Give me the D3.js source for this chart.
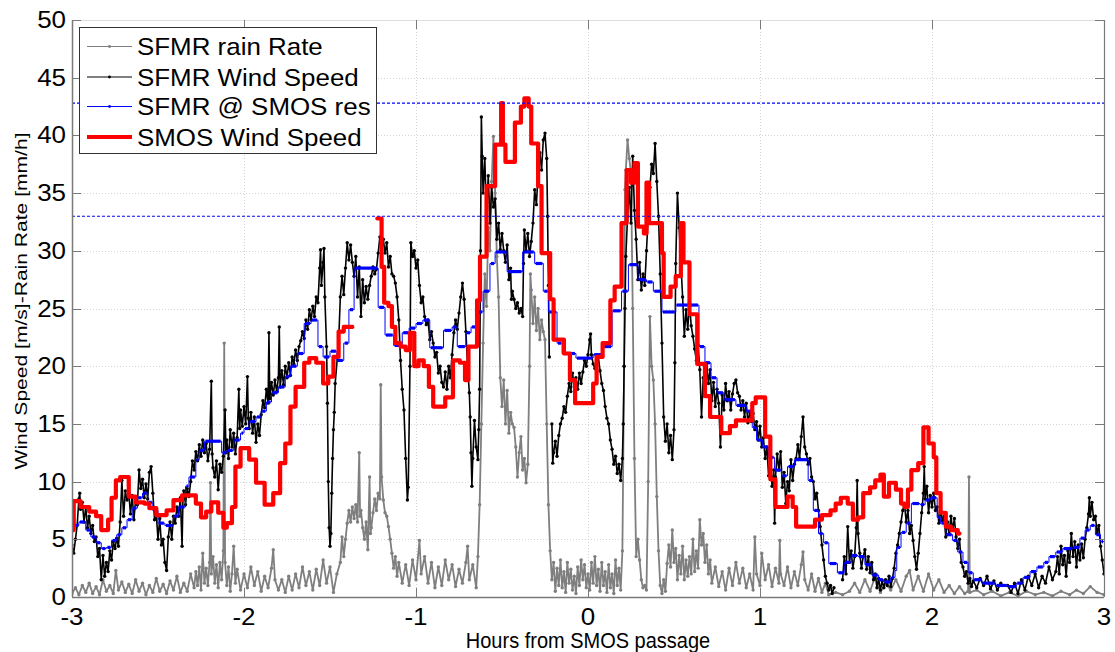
<!DOCTYPE html>
<html>
<head>
<meta charset="utf-8">
<script src="https://cdn.jsdelivr.net/npm/d3@7"></script>
<style>
  html, body { margin: 0; padding: 0; background: #fff; }
  svg { display: block; }
</style>
</head>
<body>
<svg id="chart" width="1115" height="652"></svg>
<script>
// ---- axis ticks and labels ----
const xTicks = [-3, -2, -1, 0, 1, 2, 3];
const yTicks = [0, 5, 10, 15, 20, 25, 30, 35, 40, 45, 50];
const thresholdLines = [42.8, 33.0];
const legendLabels = ["SFMR rain Rate", "SFMR Wind Speed", "SFMR @ SMOS res", "SMOS Wind Speed"];

// ---- SFMR rain rate [hours, mm/h] ----
const rainRate = [
[-3.00,0.3],[-2.98,0.8],[-2.96,0.2],[-2.94,1.0],[-2.92,0.4],[-2.90,1.2],[-2.88,0.3],[-2.86,0.9],[-2.84,0.2],[-2.82,1.5],
[-2.80,0.5],[-2.78,1.0],[-2.76,0.3],[-2.745,2.3],[-2.73,0.6],[-2.71,1.3],[-2.69,0.4],[-2.67,1.1],[-2.65,0.3],[-2.63,1.5],
[-2.61,0.5],[-2.59,1.2],[-2.57,0.2],[-2.55,1.0],[-2.53,0.4],[-2.51,1.6],[-2.49,0.5],[-2.47,1.1],[-2.45,0.3],[-2.43,1.4],
[-2.41,0.6],[-2.39,1.8],[-2.37,0.4],[-2.35,1.2],[-2.33,0.5],[-2.31,2.0],[-2.29,0.8],[-2.28,2.2],[-2.27,1.0],[-2.26,2.6],
[-2.25,0.6],[-2.24,3.8],[-2.23,1.2],[-2.22,2.5],[-2.21,1.0],[-2.20,3.0],[-2.195,9.9],[-2.19,2.0],[-2.18,3.5],[-2.17,1.2],
[-2.16,2.8],[-2.15,0.8],[-2.14,3.0],[-2.13,1.5],[-2.12,4.0],[-2.115,22.0],[-2.11,3.0],[-2.10,1.0],[-2.09,2.6],[-2.08,0.5],
[-2.07,2.0],[-2.06,4.4],[-2.05,1.2],[-2.04,2.4],[-2.02,0.6],[-2.00,2.0],[-1.98,0.8],[-1.96,2.6],[-1.94,1.0],[-1.92,2.2],
[-1.90,0.5],[-1.88,1.8],[-1.86,0.8],[-1.84,2.5],[-1.83,4.1],[-1.82,1.5],[-1.80,0.6],[-1.78,1.5],[-1.76,0.4],[-1.74,1.8],
[-1.72,0.6],[-1.70,2.0],[-1.68,0.8],[-1.66,2.6],[-1.64,1.0],[-1.62,2.2],[-1.60,0.6],[-1.58,2.4],[-1.56,1.0],[-1.54,3.2],
[-1.52,1.2],[-1.50,2.6],[-1.48,0.4],[-1.46,2.0],[-1.44,3.0],[-1.43,5.2],[-1.42,3.5],[-1.41,5.0],[-1.40,6.4],[-1.39,7.5],
[-1.38,6.5],[-1.37,7.8],[-1.36,6.8],[-1.35,8.0],[-1.34,6.5],[-1.33,12.5],[-1.325,7.0],[-1.32,7.5],[-1.31,6.0],[-1.30,5.0],
[-1.29,6.5],[-1.28,4.1],[-1.27,10.4],[-1.265,5.5],[-1.26,6.0],[-1.25,7.3],[-1.24,8.5],[-1.23,7.5],[-1.22,9.0],[-1.21,8.5],
[-1.205,18.4],[-1.20,10.4],[-1.19,8.4],[-1.18,7.3],[-1.17,7.0],[-1.16,6.1],[-1.15,5.0],[-1.14,3.8],[-1.13,2.5],[-1.12,3.5],
[-1.11,1.8],[-1.10,3.0],[-1.08,1.2],[-1.06,2.8],[-1.04,1.0],[-1.02,3.2],[-1.00,1.5],[-0.98,4.9],[-0.97,2.0],[-0.95,3.5],
[-0.93,1.2],[-0.91,3.0],[-0.89,0.8],[-0.87,2.6],[-0.85,1.0],[-0.83,3.2],[-0.81,1.5],[-0.79,2.8],[-0.77,0.9],[-0.75,2.4],
[-0.73,1.2],[-0.71,3.0],[-0.70,4.4],[-0.69,1.5],[-0.67,2.8],[-0.65,0.8],[-0.64,3.5],[-0.63,8.0],[-0.62,15.0],[-0.61,22.0],
[-0.60,28.0],[-0.59,25.2],[-0.58,32.0],[-0.57,30.0],[-0.56,36.0],[-0.55,39.9],[-0.54,35.0],[-0.53,29.5],[-0.52,26.0],[-0.51,19.0],
[-0.50,16.5],[-0.49,18.8],[-0.48,15.0],[-0.47,17.9],[-0.46,14.2],[-0.45,16.0],[-0.44,15.0],[-0.43,14.7],[-0.42,13.0],[-0.41,10.4],
[-0.40,12.5],[-0.39,13.9],[-0.38,11.0],[-0.37,12.0],[-0.36,9.9],[-0.35,11.5],[-0.34,20.0],[-0.335,28.0],[-0.33,26.6],[-0.32,23.7],
[-0.31,26.0],[-0.30,23.1],[-0.29,25.0],[-0.28,22.3],[-0.27,24.0],[-0.26,23.0],[-0.25,22.3],[-0.24,15.0],[-0.23,8.0],[-0.22,4.0],
[-0.21,1.5],[-0.20,3.0],[-0.19,0.5],[-0.18,2.5],[-0.17,1.0],[-0.16,3.2],[-0.15,0.8],[-0.14,2.2],[-0.13,0.4],[-0.12,3.0],
[-0.11,1.2],[-0.10,2.4],[-0.09,0.6],[-0.08,1.8],[-0.07,0.3],[-0.06,2.6],[-0.05,1.0],[-0.04,3.2],[-0.03,1.5],[-0.02,2.8],
[-0.01,0.8],[0.00,2.0],[0.01,0.6],[0.02,3.0],[0.03,1.2],[0.04,3.5],[0.05,1.0],[0.06,2.4],[0.07,0.5],[0.08,3.0],
[0.09,1.0],[0.10,2.2],[0.11,0.4],[0.12,2.8],[0.13,0.8],[0.14,2.0],[0.15,0.3],[0.16,3.2],[0.17,1.0],[0.18,2.5],
[0.19,0.6],[0.20,4.0],[0.21,20.0],[0.215,35.3],[0.22,37.0],[0.23,39.6],[0.24,38.0],[0.25,36.7],[0.26,25.0],[0.27,12.0],
[0.28,3.5],[0.29,5.0],[0.30,3.2],[0.31,1.5],[0.32,0.8],[0.33,1.0],[0.34,0.6],[0.35,10.0],[0.36,24.3],[0.37,20.0],
[0.38,18.8],[0.39,15.0],[0.40,8.7],[0.41,4.0],[0.42,1.0],[0.43,0.3],[0.44,1.5],[0.45,0.5],[0.46,2.9],[0.47,4.5],
[0.48,2.6],[0.49,5.8],[0.50,3.0],[0.51,4.2],[0.52,1.5],[0.53,3.6],[0.54,2.0],[0.55,4.4],[0.56,1.5],[0.57,3.2],
[0.58,1.8],[0.59,3.5],[0.60,2.0],[0.61,5.0],[0.62,2.2],[0.63,4.0],[0.64,2.5],[0.65,6.7],[0.66,4.5],[0.67,5.5],
[0.68,3.0],[0.69,4.5],[0.70,2.0],[0.71,3.2],[0.72,1.2],[0.74,2.6],[0.76,0.9],[0.78,2.2],[0.80,0.6],[0.82,2.5],
[0.84,1.0],[0.86,3.0],[0.88,1.2],[0.90,2.5],[0.92,0.8],[0.94,2.0],[0.96,0.6],[0.97,5.2],[0.98,2.0],[1.00,1.0],
[1.01,3.8],[1.03,1.5],[1.05,2.8],[1.07,0.9],[1.09,2.5],[1.11,1.2],[1.115,4.9],[1.12,2.0],[1.14,1.0],[1.16,2.6],
[1.18,0.8],[1.20,2.2],[1.22,1.0],[1.24,2.8],[1.25,3.9],[1.26,1.5],[1.28,0.6],[1.30,2.0],[1.32,0.5],[1.34,1.6],
[1.36,0.4],[1.38,1.2],[1.40,0.2],[1.44,0.4],[1.48,0.2],[1.52,0.5],[1.55,1.2],[1.58,0.4],[1.61,1.5],[1.64,0.5],
[1.67,1.8],[1.70,0.4],[1.73,1.2],[1.76,0.6],[1.79,1.5],[1.82,0.5],[1.85,1.8],[1.87,2.3],[1.89,0.6],[1.92,1.8],
[1.95,0.5],[1.98,2.0],[2.01,0.6],[2.04,1.5],[2.07,0.4],[2.10,1.0],[2.13,0.3],[2.16,0.9],[2.19,0.3],[2.21,0.5],
[2.215,10.4],[2.22,0.4],[2.26,0.6],[2.30,0.2],[2.35,0.5],[2.40,0.1],[2.45,0.4],[2.50,0.1],[2.55,0.5],[2.60,0.2],
[2.65,0.4],[2.70,0.1],[2.75,0.5],[2.80,0.2],[2.84,0.6],[2.88,0.3],[2.92,0.9],[2.96,0.4],[3.00,0.2]
];

// ---- SFMR wind speed [hours, m/s]; null marks a data gap ----
const sfmrWind = [
[-3.00,4.5],[-2.99,3.8],[-2.98,5.0],[-2.97,6.2],[-2.96,8.5],[-2.955,9.0],[-2.95,7.6],[-2.94,8.2],[-2.93,6.5],[-2.92,7.8],
[-2.91,6.0],[-2.90,7.0],[-2.89,5.5],[-2.88,6.2],[-2.87,4.8],[-2.86,5.2],[-2.85,3.5],[-2.84,4.2],[-2.83,1.5],[-2.82,3.6],
[-2.81,1.8],[-2.80,3.0],[-2.79,2.2],[-2.78,4.0],[-2.77,3.2],[-2.76,4.8],[-2.75,4.2],[-2.74,5.1],[-2.73,4.4],[-2.72,6.5],
[-2.71,10.1],[-2.70,7.0],[-2.69,9.2],[-2.68,8.4],[-2.67,9.0],[-2.66,7.2],[-2.65,8.8],[-2.64,6.7],[-2.63,8.5],[-2.62,8.0],
[-2.61,11.0],[-2.60,9.4],[-2.59,10.2],[-2.58,8.6],[-2.57,9.8],[-2.56,8.5],[-2.55,10.8],[-2.54,11.3],[-2.53,9.0],[-2.52,6.7],
[-2.51,7.2],[-2.50,5.0],[-2.49,6.8],[-2.48,4.5],[-2.47,5.0],[-2.46,3.0],[-2.45,2.3],[-2.44,5.2],[-2.43,6.5],[-2.42,5.0],
[-2.41,7.0],[-2.40,6.4],[-2.39,7.8],[-2.38,7.0],[-2.37,8.6],[-2.36,4.4],[-2.355,8.5],[-2.35,9.2],[-2.34,8.0],[-2.33,9.4],
[-2.32,8.7],[-2.31,10.0],[-2.30,11.8],[-2.29,11.0],[-2.28,12.6],[-2.27,11.8],[-2.26,13.2],[-2.25,12.2],[-2.24,13.6],[-2.23,12.5],
[-2.22,13.3],[-2.21,11.8],[-2.20,12.8],[-2.19,18.7],[-2.185,12.4],[-2.18,11.2],[-2.17,10.4],[-2.16,11.8],[-2.15,9.3],[-2.14,11.5],
[-2.13,10.8],[-2.12,12.2],[-2.11,16.2],[-2.105,12.5],[-2.10,13.6],[-2.09,12.0],[-2.08,14.5],[-2.07,13.0],[-2.06,14.2],[-2.05,12.4],
[-2.04,13.8],[-2.03,18.0],[-2.025,14.6],[-2.02,16.2],[-2.01,14.8],[-2.00,16.5],[-1.99,15.0],[-1.98,19.1],[-1.975,15.5],[-1.97,14.6],
[-1.96,16.0],[-1.95,14.2],[-1.94,15.6],[-1.93,13.4],[-1.92,15.0],[-1.91,14.0],[-1.90,15.8],[-1.89,17.0],[-1.88,16.4],[-1.87,18.0],
[-1.86,16.8],[-1.855,22.9],[-1.85,17.2],[-1.84,18.6],[-1.83,17.5],[-1.82,18.8],[-1.81,17.8],[-1.80,19.0],[-1.795,23.4],[-1.79,18.2],
[-1.78,19.6],[-1.77,18.4],[-1.76,20.0],[-1.75,19.0],[-1.74,20.3],[-1.73,19.2],[-1.72,20.8],[-1.71,20.2],[-1.70,21.4],[-1.69,20.5],
[-1.68,21.7],[-1.67,22.2],[-1.66,23.0],[-1.65,22.4],[-1.64,24.0],[-1.63,23.2],[-1.62,24.9],[-1.61,24.0],[-1.60,25.2],[-1.59,24.3],
[-1.58,26.0],[-1.57,25.5],[-1.56,28.5],[-1.555,30.1],[-1.55,27.0],[-1.54,29.0],[-1.535,30.2],[-1.53,26.0],[-1.52,21.7],[-1.515,16.8],
[-1.51,10.0],[-1.505,6.0],[-1.50,4.4],[-1.495,5.5],[-1.49,9.0],[-1.485,12.0],[-1.48,14.5],[-1.475,16.0],[-1.47,18.5],[-1.45,22.0],
[-1.44,26.0],[-1.43,27.8],[-1.42,26.2],[-1.41,28.5],[-1.40,30.7],[-1.39,29.2],[-1.38,30.5],[-1.37,29.0],[-1.36,27.8],[-1.35,29.5],
[-1.34,26.0],[-1.33,28.6],[-1.32,24.3],[-1.31,27.5],[-1.30,25.5],[-1.29,26.9],[-1.28,25.8],[-1.27,27.0],[-1.26,27.8],[-1.25,28.6],
[-1.24,28.0],[-1.23,28.4],[-1.22,29.8],[-1.21,31.2],[-1.20,30.0],[-1.19,31.0],[-1.18,29.8],[-1.17,30.7],[-1.16,28.6],[-1.15,29.5],
[-1.14,28.0],[-1.13,27.8],[-1.12,27.2],[-1.11,26.0],[-1.10,24.0],[-1.09,20.5],[-1.08,18.0],[-1.07,16.2],[-1.06,12.0],[-1.05,8.4],
[-1.045,9.5],[-1.035,20.0],[-1.03,30.7],[-1.02,29.5],[-1.01,30.0],[-1.00,28.5],[-0.99,29.2],[-0.98,27.0],[-0.97,25.5],[-0.96,26.0],
[-0.95,24.3],[-0.94,23.6],[-0.93,24.0],[-0.92,22.3],[-0.91,23.0],[-0.90,22.0],[-0.89,20.8],[-0.88,21.2],[-0.87,19.4],[-0.86,20.0],
[-0.85,18.6],[-0.84,18.2],[-0.83,19.5],[-0.82,18.0],[-0.81,20.0],[-0.80,19.0],[-0.79,21.0],[-0.78,22.9],[-0.77,24.0],[-0.76,23.2],
[-0.75,24.6],[-0.74,26.0],[-0.73,27.2],[-0.72,25.8],[-0.71,23.0],[-0.70,20.0],[-0.69,17.7],[-0.685,15.6],[-0.68,12.5],[-0.675,9.6],
[-0.67,12.0],[-0.66,15.3],[-0.65,13.0],[-0.64,11.9],[-0.635,14.5],[-0.63,18.0],[-0.625,30.0],[-0.62,41.6],[-0.615,38.2],[-0.61,35.0],
[-0.60,38.0],[-0.59,33.0],[-0.58,36.5],[-0.57,32.4],[-0.56,35.5],[-0.55,33.8],[-0.54,34.5],[-0.53,31.0],[-0.52,32.4],[-0.51,30.1],
[-0.50,31.5],[-0.49,30.0],[-0.48,29.0],[-0.47,30.5],[-0.46,27.5],[-0.45,28.5],[-0.445,25.8],[-0.44,26.5],[-0.43,25.8],[-0.42,25.0],
[-0.41,25.5],[-0.40,24.6],[-0.39,25.0],[-0.38,24.3],[-0.375,28.9],[-0.37,31.8],[-0.36,30.0],[-0.35,31.5],[-0.34,29.5],[-0.33,30.8],
[-0.32,32.4],[-0.31,35.3],[-0.30,34.0],[-0.29,36.7],[-0.28,38.5],[-0.27,37.0],[-0.26,39.6],[-0.25,40.2],[-0.24,38.0],[-0.235,33.0],
[-0.23,27.0],[-0.225,20.8],[-0.218,null],[-0.21,15.0],[-0.205,11.6],[-0.20,12.5],[-0.19,13.5],[-0.18,12.2],[-0.17,14.0],[-0.16,15.0],
[-0.15,15.5],[-0.14,16.5],[-0.13,16.0],[-0.12,17.4],[-0.11,18.5],[-0.10,17.8],[-0.09,19.4],[-0.08,18.2],[-0.07,19.0],[-0.06,18.0],
[-0.05,19.4],[-0.04,18.5],[-0.03,19.5],[-0.02,20.5],[-0.01,20.0],[0.00,21.0],[0.01,22.3],[0.015,22.8],[0.02,21.0],[0.03,20.2],
[0.04,19.8],[0.05,20.4],[0.06,20.8],[0.07,19.6],[0.08,18.5],[0.09,17.9],[0.10,16.5],[0.11,15.5],[0.12,15.0],[0.13,13.6],
[0.14,12.8],[0.15,11.5],[0.16,12.2],[0.17,10.7],[0.18,11.5],[0.19,10.1],[0.20,12.0],[0.205,15.0],[0.21,20.0],[0.215,25.0],
[0.22,29.5],[0.23,33.0],[0.24,35.5],[0.25,32.4],[0.26,38.2],[0.27,33.5],[0.28,31.0],[0.29,27.5],[0.30,29.0],[0.31,26.6],
[0.32,28.0],[0.33,27.0],[0.34,30.0],[0.35,33.0],[0.36,35.5],[0.37,37.5],[0.38,36.7],[0.39,39.3],[0.40,36.0],[0.41,33.0],
[0.42,28.0],[0.43,22.0],[0.44,15.6],[0.45,13.5],[0.46,15.0],[0.47,12.5],[0.48,14.0],[0.49,11.9],[0.50,14.5],[0.505,20.3],
[0.51,28.9],[0.52,35.0],[0.53,32.0],[0.54,29.0],[0.55,26.0],[0.56,22.6],[0.57,24.9],[0.58,23.2],[0.59,25.5],[0.60,23.5],
[0.61,22.6],[0.62,21.5],[0.63,20.5],[0.64,21.8],[0.65,19.7],[0.66,15.6],[0.67,19.0],[0.68,17.4],[0.69,20.3],[0.70,18.5],
[0.71,19.7],[0.72,17.0],[0.73,18.6],[0.74,16.5],[0.75,18.0],[0.76,16.8],[0.77,13.0],[0.78,17.5],[0.79,16.2],[0.80,18.5],
[0.81,17.0],[0.82,17.8],[0.83,16.2],[0.84,17.6],[0.85,18.5],[0.86,18.8],[0.87,17.7],[0.88,17.4],[0.89,16.2],[0.90,17.0],
[0.91,15.6],[0.92,16.8],[0.93,15.1],[0.94,16.0],[0.95,15.2],[0.96,15.9],[0.97,14.5],[0.98,15.2],[0.99,13.6],[1.00,14.8],
[1.01,13.0],[1.02,13.8],[1.03,12.0],[1.04,13.0],[1.05,10.5],[1.06,11.8],[1.07,9.6],[1.08,11.0],[1.085,6.4],[1.09,10.4],
[1.10,12.4],[1.11,11.0],[1.12,12.6],[1.13,9.5],[1.14,10.8],[1.15,8.1],[1.16,10.0],[1.17,9.2],[1.18,11.9],[1.19,10.1],
[1.20,11.5],[1.21,12.0],[1.22,13.2],[1.23,12.0],[1.24,13.9],[1.25,15.6],[1.26,13.0],[1.27,12.4],[1.28,11.5],[1.29,12.0],
[1.30,10.4],[1.31,10.0],[1.32,8.5],[1.33,9.0],[1.34,7.5],[1.35,6.1],[1.36,4.5],[1.37,3.2],[1.38,1.8],[1.39,1.2],
[1.40,0.6],[1.41,1.0],[1.42,0.3],[1.43,0.8],[1.45,null],[1.48,1.5],[1.49,3.5],[1.50,2.0],[1.51,6.1],[1.52,3.0],
[1.53,4.0],[1.54,2.5],[1.55,3.5],[1.56,6.0],[1.565,10.1],[1.57,5.5],[1.58,3.8],[1.59,2.5],[1.60,3.5],[1.61,4.1],
[1.62,2.4],[1.63,3.5],[1.64,2.1],[1.65,3.0],[1.66,1.5],[1.67,2.0],[1.68,0.8],[1.69,1.6],[1.70,0.6],[1.71,1.4],
[1.72,0.8],[1.73,1.5],[1.74,1.0],[1.75,1.8],[1.76,0.9],[1.77,1.6],[1.78,2.5],[1.79,3.8],[1.80,4.5],[1.81,5.5],
[1.82,6.5],[1.83,7.5],[1.84,8.1],[1.85,6.5],[1.86,7.5],[1.87,5.5],[1.88,6.2],[1.89,4.9],[1.90,3.5],[1.91,2.4],
[1.92,3.8],[1.93,5.5],[1.94,7.3],[1.95,9.0],[1.955,11.3],[1.96,8.5],[1.97,9.6],[1.98,7.3],[1.99,8.8],[2.00,7.8],
[2.01,9.0],[2.02,7.5],[2.03,7.8],[2.04,6.4],[2.05,7.5],[2.06,6.6],[2.07,7.0],[2.08,5.2],[2.09,6.5],[2.10,5.5],
[2.11,7.0],[2.12,5.8],[2.13,6.8],[2.14,5.2],[2.15,4.2],[2.16,5.0],[2.17,3.0],[2.18,2.6],[2.19,1.8],[2.20,2.2],
[2.21,1.2],[2.22,1.6],[2.23,0.9],[2.24,1.4],[2.26,0.8],[2.28,1.6],[2.30,1.0],[2.32,1.8],[2.34,0.7],[2.36,1.4],
[2.38,0.6],[2.40,1.2],[2.42,null],[2.44,1.0],[2.46,0.4],[2.48,1.2],[2.50,0.3],[2.52,1.5],[2.54,0.6],[2.56,1.8],
[2.58,1.0],[2.60,2.0],[2.62,0.8],[2.64,1.8],[2.66,1.2],[2.68,2.6],[2.70,1.5],[2.72,2.2],[2.73,3.5],[2.74,2.0],
[2.75,4.4],[2.76,2.8],[2.77,3.6],[2.78,1.8],[2.79,4.0],[2.80,3.0],[2.81,5.5],[2.82,3.5],[2.83,4.8],[2.84,2.6],
[2.85,4.5],[2.86,3.2],[2.87,4.6],[2.88,3.4],[2.89,5.0],[2.90,6.0],[2.91,7.2],[2.915,8.6],[2.92,7.0],[2.93,8.2],
[2.94,6.7],[2.95,7.0],[2.96,5.5],[2.97,6.2],[2.98,4.4],[2.99,3.2],[3.00,2.0]
];

// ---- SFMR wind averaged to SMOS resolution: step starts [hours, m/s] ----
const sfmrSmosRes = [
[-3.00,6.2],[-2.96,6.5],[-2.92,5.8],[-2.89,5.2],[-2.86,4.7],[-2.83,4.2],[-2.80,4.3],[-2.77,4.9],[-2.74,5.4],[-2.71,6.0],
[-2.68,6.7],[-2.65,7.7],[-2.62,8.6],[-2.59,9.0],[-2.56,8.2],[-2.53,7.5],[-2.50,6.4],[-2.46,6.2],[-2.41,7.0],[-2.38,7.8],
[-2.34,9.6],[-2.32,10.4],[-2.28,11.9],[-2.26,12.7],[-2.23,13.5],[-2.13,12.5],[-2.10,12.7],[-2.06,13.6],[-2.02,14.2],[-2.00,14.6],
[-1.97,15.2],[-1.93,15.6],[-1.90,16.1],[-1.87,16.9],[-1.84,17.7],[-1.80,18.2],[-1.76,19.1],[-1.73,20.0],[-1.69,21.1],[-1.65,23.7],
[-1.61,24.0],[-1.57,21.7],[-1.54,20.8],[-1.50,21.3],[-1.46,20.5],[-1.42,22.0],[-1.39,24.9],[-1.36,28.5],[-1.22,25.1],[-1.18,22.7],
[-1.13,21.8],[-1.08,22.9],[-1.04,23.3],[-1.00,23.7],[-0.96,24.0],[-0.92,21.6],[-0.84,23.1],[-0.79,23.4],[-0.76,21.7],[-0.71,22.9],
[-0.68,23.4],[-0.65,24.7],[-0.61,26.5],[-0.57,28.9],[-0.54,29.9],[-0.47,28.2],[-0.38,29.9],[-0.31,28.9],[-0.26,26.5],[-0.23,24.7],
[-0.18,22.0],[-0.15,21.1],[-0.07,20.7],[0.03,21.0],[0.09,21.7],[0.14,24.8],[0.195,26.5],[0.235,28.8],[0.29,27.5],[0.34,27.3],
[0.38,26.5],[0.43,24.7],[0.51,25.3],[0.645,21.7],[0.68,20.3],[0.715,19.0],[0.75,17.7],[0.79,17.1],[0.86,16.6],[0.92,16.1],
[0.955,14.7],[0.98,13.6],[1.015,13.0],[1.05,12.1],[1.085,11.0],[1.125,10.5],[1.16,11.3],[1.20,11.9],[1.28,10.1],[1.31,7.5],
[1.34,5.5],[1.37,4.7],[1.40,2.9],[1.45,2.1],[1.49,3.0],[1.53,3.6],[1.57,3.5],[1.61,2.8],[1.65,1.9],[1.69,1.5],
[1.72,1.3],[1.76,1.7],[1.785,2.3],[1.795,4.3],[1.82,5.6],[1.85,6.4],[1.88,8.1],[1.93,8.0],[1.96,8.4],[1.99,8.6],
[2.03,6.9],[2.05,6.4],[2.08,5.4],[2.12,4.9],[2.15,3.9],[2.18,3.0],[2.21,2.1],[2.24,1.5],[2.29,1.2],[2.37,1.0],
[2.44,0.9],[2.49,1.2],[2.53,1.7],[2.57,2.2],[2.61,2.6],[2.65,3.0],[2.68,3.5],[2.72,3.9],[2.76,4.2],[2.82,4.3],
[2.86,5.1],[2.89,5.8],[2.92,6.2],[2.95,5.4],[2.98,4.8],[3.00,4.8]
];

// ---- SMOS wind speed: step starts [hours, m/s]; null marks a gap ----
const smosWind = [
[-3.00,5.8],[-2.99,8.3],[-2.95,7.8],[-2.90,7.4],[-2.86,7.0],[-2.83,5.8],[-2.79,6.7],[-2.77,8.6],[-2.745,10.1],[-2.72,10.4],
[-2.67,8.7],[-2.63,8.2],[-2.58,8.1],[-2.55,7.7],[-2.51,7.1],[-2.45,7.5],[-2.41,8.4],[-2.36,8.8],[-2.28,8.1],[-2.25,6.9],
[-2.22,7.4],[-2.19,8.2],[-2.15,7.3],[-2.12,6.0],[-2.10,6.4],[-2.07,7.8],[-2.05,11.3],[-2.02,12.9],[-1.97,11.9],[-1.93,9.9],
[-1.88,8.0],[-1.83,9.0],[-1.79,11.6],[-1.76,13.3],[-1.73,16.5],[-1.70,18.2],[-1.65,20.3],[-1.62,20.7],[-1.58,20.3],[-1.54,18.5],
[-1.51,19.1],[-1.48,20.8],[-1.45,23.0],[-1.42,23.4],[-1.37,23.4],[-1.365,null],
[-1.225,32.8],[-1.20,28.6],[-1.185,25.5],[-1.16,25.2],[-1.14,23.4],[-1.12,22.0],[-1.09,21.7],[-1.06,21.4],[-1.035,22.9],[-1.01,20.0],
[-0.985,20.5],[-0.955,20.0],[-0.925,18.2],[-0.90,16.5],[-0.83,17.3],[-0.785,20.5],[-0.745,20.3],[-0.715,18.8],[-0.695,21.7],[-0.645,25.7],
[-0.628,29.5],[-0.59,35.6],[-0.54,39.2],[-0.505,42.8],[-0.495,39.2],[-0.48,37.7],[-0.425,41.1],[-0.39,42.5],[-0.37,43.2],[-0.345,42.5],
[-0.33,39.3],[-0.29,35.6],[-0.27,29.8],[-0.22,25.8],[-0.20,22.3],[-0.14,21.1],[-0.105,18.8],[-0.075,16.8],[0.03,18.5],[0.05,20.8],
[0.085,22.0],[0.13,25.7],[0.155,26.9],[0.195,32.4],[0.225,37.0],[0.25,35.9],[0.27,37.6],[0.29,32.1],[0.325,31.5],[0.34,35.9],
[0.355,32.4],[0.43,29.8],[0.44,26.0],[0.48,26.9],[0.51,27.8],[0.54,32.4],[0.555,29.0],[0.59,24.5],[0.635,20.2],[0.68,17.4],
[0.71,15.6],[0.775,14.2],[0.825,14.8],[0.86,15.3],[0.955,16.8],[0.975,17.3],[1.03,13.9],[1.06,10.2],[1.09,7.8],[1.16,8.7],
[1.19,7.8],[1.21,6.1],[1.32,6.7],[1.36,7.1],[1.41,7.5],[1.44,8.1],[1.47,8.6],[1.51,8.1],[1.54,6.7],[1.57,6.9],
[1.60,9.0],[1.64,9.5],[1.67,10.1],[1.70,10.6],[1.72,8.7],[1.75,9.9],[1.79,9.3],[1.82,8.1],[1.84,7.8],[1.86,9.3],
[1.88,11.0],[1.92,11.6],[1.95,14.7],[1.98,13.3],[2.01,12.1],[2.025,9.0],[2.05,7.3],[2.08,6.1],[2.11,5.8],[2.15,5.5],
[2.16,5.5]
];

// ---- layout ----
const W = 1115, H = 652;
const plot = { left: 72, right: 1104, top: 20, bottom: 597 };
const FONT = "'Liberation Sans', Arial, Helvetica, sans-serif";
const COLORS = { rain: "#7f7f7f", wind: "#000000", res: "#0000ff", smos: "#ff0000", axis: "#7a7a7a", grid: "#d4d4d4" };

const svg = d3.select("#chart");
svg.append("rect").attr("width", W).attr("height", H).attr("fill", "#fff");

const x = d3.scaleLinear().domain([-3, 3]).range([plot.left, plot.right]);
const y = d3.scaleLinear().domain([0, 50]).range([plot.bottom, plot.top]);

svg.append("clipPath").attr("id", "plotClip")
  .append("rect").attr("x", plot.left).attr("y", plot.top - 6)
  .attr("width", plot.right - plot.left).attr("height", plot.bottom - plot.top + 6);

// dotted grid
const grid = svg.append("g").attr("stroke", COLORS.grid).attr("stroke-width", 1).attr("stroke-dasharray", "1,2");
grid.selectAll("line.gx").data(xTicks.slice(1, -1)).join("line")
  .attr("x1", d => Math.round(x(d)) + 0.5).attr("x2", d => Math.round(x(d)) + 0.5)
  .attr("y1", plot.top).attr("y2", plot.bottom);
grid.selectAll("line.gy").data(yTicks.slice(1, -1)).join("line")
  .attr("y1", d => Math.round(y(d)) + 0.5).attr("y2", d => Math.round(y(d)) + 0.5)
  .attr("x1", plot.left).attr("x2", plot.right);

const layer = svg.append("g").attr("clip-path", "url(#plotClip)");

// dotted-marker series (line + dense dots)
function dottedSeries(data, color, r, w) {
  const g = layer.append("g");
  const line = d3.line().defined(d => d[1] != null).x(d => x(d[0])).y(d => y(d[1]));
  g.append("path").datum(data).attr("d", line)
    .attr("fill", "none").attr("stroke", color).attr("stroke-width", w).attr("stroke-linejoin", "round");
  g.selectAll("circle").data(data.filter(d => d[1] != null)).join("circle")
    .attr("cx", d => x(d[0])).attr("cy", d => y(d[1])).attr("r", r).attr("fill", color);
}
dottedSeries(rainRate, COLORS.rain, 1.7, 1.8);
dottedSeries(sfmrWind, COLORS.wind, 1.7, 1.6);

// SFMR at SMOS resolution: thin step line, heavy plateau marks
{
  const g = layer.append("g");
  const step = d3.line().curve(d3.curveStepAfter).x(d => x(d[0])).y(d => y(d[1]));
  g.append("path").datum(sfmrSmosRes).attr("d", step)
    .attr("fill", "none").attr("stroke", COLORS.res).attr("stroke-width", 1);
  const plateaus = d3.pairs(sfmrSmosRes);
  g.selectAll("line").data(plateaus).join("line")
    .attr("x1", p => x(p[0][0]) + 1).attr("x2", p => Math.max(x(p[0][0]) + 1, x(p[1][0]) - 1))
    .attr("y1", p => y(p[0][1])).attr("y2", p => y(p[0][1]))
    .attr("stroke", COLORS.res).attr("stroke-width", 3.2);
}

// SMOS wind: thick red step line
layer.append("path").datum(smosWind)
  .attr("d", d3.line().defined(d => d[1] != null).curve(d3.curveStepAfter).x(d => x(d[0])).y(d => y(d[1])))
  .attr("fill", "none").attr("stroke", COLORS.smos).attr("stroke-width", 4.2)
  .attr("stroke-linejoin", "round").attr("stroke-linecap", "round");

// threshold reference lines
svg.append("g").selectAll("line").data(thresholdLines).join("line")
  .attr("x1", plot.left).attr("x2", plot.right)
  .attr("y1", d => y(d)).attr("y2", d => y(d))
  .attr("stroke", COLORS.res).attr("stroke-width", 1.1).attr("stroke-dasharray", "3,2");

// axes box with inward ticks
const axisG = svg.append("g").attr("stroke", COLORS.axis).attr("fill", "none");
axisG.append("line").attr("x1", plot.left + 0.5).attr("x2", plot.left + 0.5).attr("y1", plot.top).attr("y2", plot.bottom).attr("stroke-width", 1.5);
axisG.append("line").attr("x1", plot.left).attr("x2", plot.right).attr("y1", plot.bottom + 0.5).attr("y2", plot.bottom + 0.5).attr("stroke-width", 1.5);
axisG.append("line").attr("x1", plot.right + 0.5).attr("x2", plot.right + 0.5).attr("y1", plot.top).attr("y2", plot.bottom).attr("stroke-width", 1.2);
axisG.append("line").attr("x1", plot.left).attr("x2", plot.right).attr("y1", plot.top + 0.5).attr("y2", plot.top + 0.5).attr("stroke-width", 0.6).attr("stroke", "#c8c8c8");
const TL = 9;
yTicks.forEach(v => {
  const yy = Math.round(y(v)) + 0.5;
  axisG.append("line").attr("x1", plot.left).attr("x2", plot.left + TL).attr("y1", yy).attr("y2", yy);
  axisG.append("line").attr("x1", plot.right - TL).attr("x2", plot.right).attr("y1", yy).attr("y2", yy);
});
xTicks.forEach(v => {
  const xx = Math.round(x(v)) + 0.5;
  axisG.append("line").attr("x1", xx).attr("x2", xx).attr("y1", plot.bottom - TL).attr("y2", plot.bottom);
  axisG.append("line").attr("x1", xx).attr("x2", xx).attr("y1", plot.top).attr("y2", plot.top + TL);
});

// stretched text helper
function stretchedText(parent, tx, ty, txt, size, sx, sy, anchor, rotate) {
  const g = parent.append("g").attr("transform",
    `translate(${tx},${ty})` + (rotate ? ` rotate(${rotate})` : "") + ` scale(${sx},${sy})`);
  return g.append("text").text(txt)
    .attr("font-family", FONT).attr("font-size", size)
    .attr("text-anchor", anchor).attr("fill", "#000");
}

const labels = svg.append("g");
yTicks.forEach(v => stretchedText(labels, 66, y(v) + 8, String(v), 22, 1.18, 1.05, "end"));
xTicks.forEach(v => stretchedText(labels, x(v), 625, String(v), 22, 1.18, 1.05, "middle"));
stretchedText(labels, 588, 648, "Hours from SMOS passage", 20, 1.0, 1.12, "middle");
stretchedText(labels, 27, 301, "Wind Speed [m/s]-Rain Rate [mm/h]", 17, 1.24, 1.0, "middle", -90);

// legend
const legend = svg.append("g");
legend.append("rect").attr("x", 79.5).attr("y", 27.5).attr("width", 297).attr("height", 126)
  .attr("fill", "#fff").attr("stroke", "#333").attr("stroke-width", 1);
const legendStyles = [
  { color: COLORS.rain, width: 1, dot: true },
  { color: COLORS.wind, width: 1, dot: true },
  { color: COLORS.res, width: 1, dot: true },
  { color: COLORS.smos, width: 4.2, dot: false }
];
const rowY = [46.5, 77, 106.5, 137];
legendLabels.forEach((lab, i) => {
  const s = legendStyles[i];
  legend.append("line").attr("x1", 87).attr("x2", 132).attr("y1", rowY[i]).attr("y2", rowY[i])
    .attr("stroke", s.color).attr("stroke-width", s.width);
  if (s.dot) legend.append("circle").attr("cx", 109.5).attr("cy", rowY[i]).attr("r", 1.4).attr("fill", s.color);
  stretchedText(legend, 137, rowY[i] + 8.6, lab, 24, 1.08, 1.0, "start");
});
</script>
</body>
</html>
